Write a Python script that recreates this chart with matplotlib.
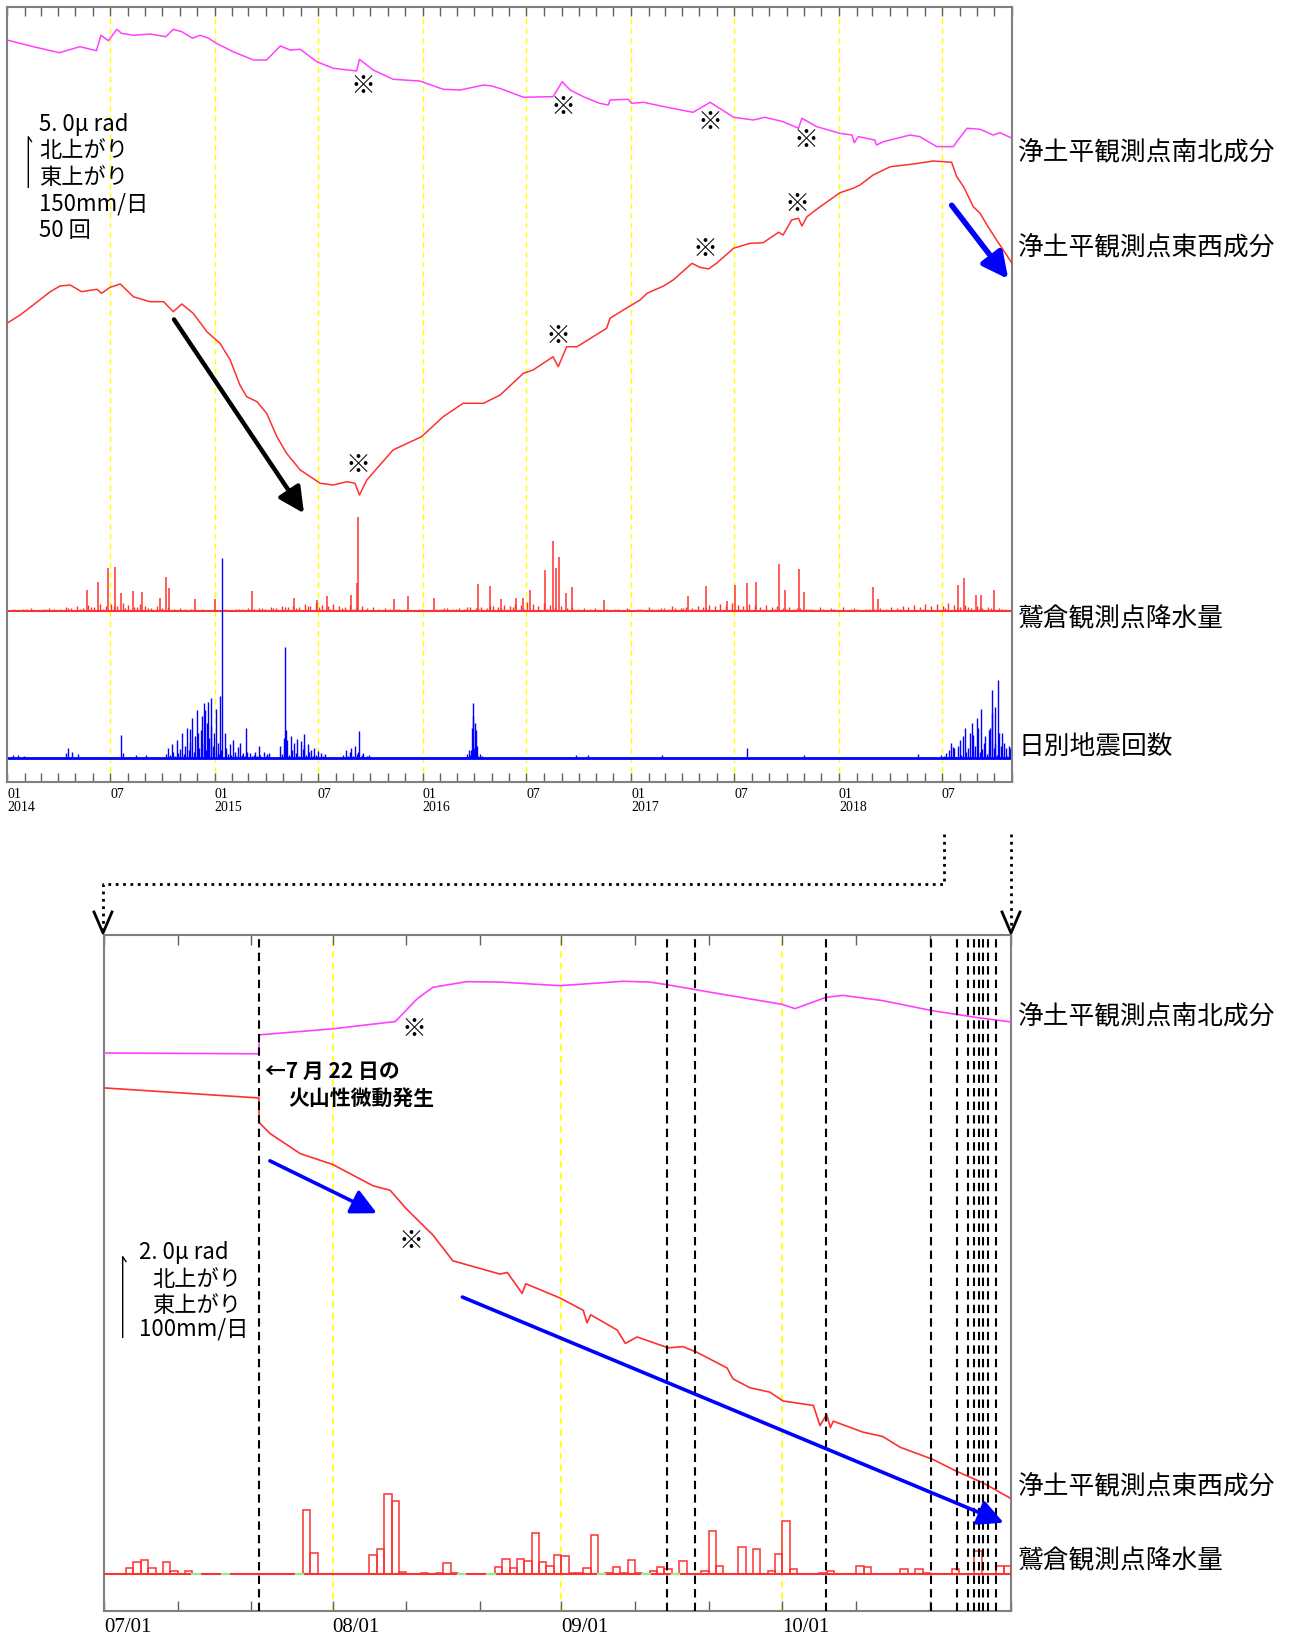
import numpy as np
import pandas as pd
import matplotlib
matplotlib.use("Agg")
import matplotlib.pyplot as plt
import matplotlib.dates as mdates
from matplotlib.lines import Line2D
from matplotlib.ticker import FuncFormatter

plt.rcParams['font.family'] = ['Noto Sans CJK JP', 'DejaVu Sans']

W, H = 1298, 1645
MAG = '#ff40ff'
RED = '#ff3030'
BLUE = '#0000ff'
YEL = '#ffff00'

# ---------------- top panel (days since 2014-01-01) ----------------
# 浄土平 南北成分 (μrad, relative)
ns_top_days = [0, 46, 92, 128, 157, 165, 178, 193, 201, 222,
               251, 279, 292, 307, 326, 339, 354, 368, 397, 433,
               456, 480, 497, 515, 544, 573, 614, 619, 643, 678,
               725, 766, 796, 837, 851, 866, 907, 959, 975, 989,
               1012, 1041, 1056, 1059, 1091, 1097, 1118, 1159, 1205, 1235,
               1276, 1311, 1331, 1363, 1390, 1396, 1422, 1463, 1484, 1488,
               1495, 1524, 1527, 1539, 1586, 1603, 1633, 1662, 1668, 1686,
               1709, 1732, 1744, 1765]
ns_top_urad = [0.00, -0.66, -1.26, -0.66, -1.06, 0.47, -0.07, 1.06, 0.66, 0.47,
               0.59, 0.33, 1.06, 0.82, 0.17, 0.47, 0.17, -0.33, -1.16, -1.98,
               -1.98, -0.59, -0.99, -0.92, -2.15, -2.80, -3.07, -1.91, -2.97, -3.89,
               -4.06, -4.88, -4.95, -4.46, -4.55, -4.80, -5.67, -5.61, -4.13, -4.95,
               -5.61, -6.27, -6.44, -5.94, -5.87, -6.27, -6.17, -6.66, -7.16, -6.17,
               -7.65, -7.92, -7.65, -8.09, -8.74, -7.75, -8.58, -9.24, -9.41, -10.17,
               -9.57, -9.90, -10.40, -10.07, -9.41, -9.57, -10.56, -10.56, -10.07, -8.74,
               -8.84, -9.41, -9.18, -9.73]

# 浄土平 東西成分 (μrad, relative)
ew_top_days = [0, 23, 46, 76, 93, 111, 131, 158, 166, 181,
               199, 222, 251, 275, 292, 307, 327, 351, 374, 392,
               409, 421, 439, 456, 474, 491, 515, 550, 573, 597,
               611, 619, 632, 678, 728, 766, 801, 837, 866, 907,
               924, 959, 968, 983, 1001, 1053, 1059, 1094, 1112, 1124,
               1153, 1170, 1203, 1217, 1232, 1246, 1276, 1305, 1328, 1355,
               1363, 1378, 1390, 1396, 1405, 1428, 1463, 1486, 1498, 1521,
               1551, 1592, 1627, 1659, 1668, 1680, 1697, 1709, 1723, 1738,
               1765]
ew_top_urad = [0.00, 0.82, 1.81, 3.13, 3.69, 3.79, 3.13, 3.37, 2.97, 3.56,
               3.89, 2.63, 2.14, 2.14, 1.15, 1.91, 0.99, -0.83, -1.98, -3.63,
               -6.11, -7.27, -7.76, -8.91, -11.23, -12.87, -14.52, -15.84, -16.01, -15.68,
               -15.84, -17.00, -15.51, -12.54, -11.23, -9.25, -7.92, -7.92, -7.10, -4.95,
               -4.62, -3.31, -4.30, -2.32, -2.32, -0.50, 0.50, 1.71, 2.31, 2.97,
               3.69, 4.29, 5.94, 5.54, 5.38, 5.94, 7.43, 7.92, 7.98, 9.01,
               8.74, 10.23, 10.40, 9.63, 10.55, 11.54, 12.93, 13.37, 13.69, 14.68,
               15.50, 15.77, 16.07, 15.94, 14.51, 13.52, 11.54, 10.89, 9.56, 8.24,
               5.94]

# 鷲倉 降水量 (mm/day): larger days
rain_top_days = [140, 159, 178, 189, 200, 222, 237, 268, 279, 285,
                 330, 365, 431, 504, 544, 562, 605, 614, 616, 679,
                 704, 750, 827, 848, 867, 894, 907, 919, 944, 959,
                 964, 970, 982, 993, 1048, 1196, 1227, 1265, 1279, 1299,
                 1315, 1355, 1367, 1391, 1399, 1521, 1530, 1670, 1680, 1701,
                 1710, 1733]
rain_top_mm = [62, 87, 127, 131, 53, 60, 56, 38, 100, 67,
               36, 35, 60, 40, 33, 45, 47, 82, 278, 36,
               45, 40, 80, 75, 36, 40, 40, 62, 122, 207,
               128, 161, 52, 70, 33, 44, 75, 31, 77, 82,
               87, 139, 62, 124, 56, 70, 37, 77, 99, 47,
               47, 62]
# smaller rainy days, one every 10 days from day 3, and more offset by 5 days
rain_bg_days = np.arange(3, 1765, 10)
rain_bg_mm = [4, 6, 3, 5, 8, 4, 6, 9, 5, 7, 12, 8, 15, 10, 18, 12, 22, 14, 20, 16, 25, 18, 12, 20, 15, 10, 14, 8, 12, 6, 9, 5, 7, 4, 6, 3, 5,
              3, 5, 4, 7, 5, 8, 6, 10, 7, 12, 9, 14, 11, 16, 13, 20, 15, 24, 18, 14, 22, 16, 12, 18, 10, 14, 8, 11, 6, 9, 5, 7, 4, 6, 3, 5,
              4, 3, 6, 5, 8, 6, 9, 7, 11, 8, 13, 10, 16, 12, 19, 14, 22, 18, 26, 20, 15, 24, 17, 12, 16, 10, 13, 7, 10, 5, 8, 4, 6, 3, 5, 4, 6,
              3, 5, 4, 6, 5, 8, 7, 10, 8, 13, 10, 15, 12, 18, 14, 21, 16, 25, 19, 14, 22, 17, 12, 19, 11, 15, 9, 12, 6, 9, 5, 7, 4, 6, 3, 5,
              4, 3, 5, 6, 4, 7, 6, 9, 7, 12, 9, 15, 11, 18, 13, 22, 16, 20, 14, 24, 17, 12, 18, 10, 14, 8, 11, 6, 9, 5, 7]
rain_bg2_days = np.arange(8, 1765, 20)
rain_bg2_mm = [3, 5, 2, 6, 4, 9, 7, 11, 6, 14, 9, 12, 8, 5, 4, 3, 6, 2,
               4, 3, 7, 5, 10, 8, 13, 9, 16, 11, 7, 9, 5, 3, 4, 2, 5, 3, 6, 4,
               8, 6, 12, 10, 15, 8, 11, 6, 4, 5, 3, 2, 4, 3, 6, 5, 9, 7,
               12, 10, 14, 9, 6, 8, 4, 3, 5, 2, 4, 6, 5, 8, 7, 11, 9, 13,
               10, 7, 6, 4, 5, 3, 6, 4, 9, 8, 12, 10, 8, 6]

# 日別地震回数
eq_days = [10, 20, 30, 104, 108, 115, 125, 200, 204, 226,
           244, 322, 336, 342, 348, 353, 359, 367, 374, 378,
           382, 420, 488, 490, 522, 619, 815, 819, 824, 1000,
           1020, 1150, 1299, 1400, 1600, 1661, 1696, 1710, 1724, 1730,
           1736, 1741, 1747, 1762]
eq_counts = [3, 3, 2, 5, 10, 6, 4, 23, 5, 3,
             3, 29, 25, 42, 48, 56, 32, 49, 62, 198,
             25, 30, 110, 28, 24, 27, 8, 55, 28, 3,
             3, 3, 10, 3, 4, 11, 23, 49, 28, 68,
             51, 78, 25, 10]
eq_a_days = np.arange(280, 377, 3)
eq_a = [4, 10, 3, 14, 6, 2, 18, 5, 9, 25, 4, 12, 30, 8, 16, 40, 6, 22, 48, 10,
        28, 15, 55, 8, 35, 20, 60, 12, 25, 6, 15, 4, 8]
eq_b_days = np.arange(385, 461, 3)
eq_b = [10, 4, 14, 3, 18, 6, 2, 11, 15, 3, 5, 2, 6, 1, 5, 2, 3, 6, 2, 12, 3, 1, 6, 2, 4, 5]
eq_c_days = np.arange(480, 561, 3)
eq_c = [12, 4, 20, 6, 18, 3, 22, 8, 15, 5, 19, 2, 17, 9, 13, 3, 14, 6, 8, 2, 10, 3, 7, 1, 5, 2, 4]
eq_d_days = np.arange(590, 641, 3)
eq_d = [3, 1, 8, 2, 6, 10, 2, 12, 4, 6, 1, 3, 5, 1, 2, 3, 1]
eq_e_days = np.arange(808, 835, 2)
eq_e = [4, 1, 8, 3, 30, 42, 10, 35, 6, 12, 2, 4, 1, 2]
eq_f_days = np.arange(1640, 1765, 3)
eq_f = [3, 1, 2, 5, 1, 8, 15, 2, 10, 1, 12, 18, 3, 22, 30, 6, 10, 25, 35, 8, 12,
        40, 30, 6, 9, 15, 22, 4, 8, 30, 45, 10, 15, 3, 25, 12, 4, 15, 10, 2, 12, 8]

# ---------------- bottom panel (days since 2018-07-01) ----------------
ns_bot_days = [0, 21, 21.05, 31, 39.5, 42.5, 44.6, 49.2, 53.7, 61.8,
               70.4, 74, 76.5, 83.1, 91.9, 93.7, 97.9, 100.2, 105.6, 112.3,
               118.4, 123]
ns_bot_urad = [0.00, -0.02, 0.45, 0.60, 0.78, 1.35, 1.63, 1.77, 1.76, 1.67,
               1.78, 1.76, 1.69, 1.48, 1.21, 1.10, 1.38, 1.43, 1.30, 1.05,
               0.88, 0.77]
ew_bot_days = [0, 21, 21.05, 22.5, 26.6, 31, 36.5, 38.8, 41, 44.6,
               46, 47.3, 53.7, 54.7, 56.7, 57.2, 61.8, 65, 65.5, 66,
               69.6, 70.7, 72.3, 76.5, 78.5, 80.4, 84.5, 85.3, 87.6, 90.3,
               92.1, 96.2, 97.1, 98, 98.5, 98.9, 102.9, 105.6, 108, 112.3,
               115.7, 119.2, 123]
ew_bot_urad = [0.00, -0.25, -0.86, -1.13, -1.63, -1.90, -2.43, -2.54, -3.00, -3.65,
               -3.98, -4.29, -4.62, -4.58, -5.10, -4.86, -5.21, -5.52, -5.83, -5.63,
               -6.01, -6.34, -6.18, -6.45, -6.42, -6.56, -6.95, -7.22, -7.44, -7.55,
               -7.77, -7.88, -8.38, -8.10, -8.43, -8.27, -8.54, -8.65, -8.92, -9.21,
               -9.52, -9.80, -10.19]
rain_bot_days = [3, 4, 5, 6, 8, 9, 11, 27, 28, 36, 37, 38, 39, 40, 43, 45, 46, 47, 53, 54,
                 55, 56, 57, 58, 59, 60, 61, 62, 63, 64, 65, 66, 68, 69, 70, 71, 72, 74, 75, 76,
                 78, 81, 82, 83, 86, 88, 90, 91, 92, 93, 97, 98, 102, 103, 108, 110, 111, 115, 118, 121,
                 122]
rain_bot_mm = [7.1, 14.3, 17.6, 7.1, 14.3, 3.8, 3.8, 79.0, 25.8, 23.0, 30.7, 99.3, 91.1, 2.2, 1.6, 1.1, 13.2, 1.6, 8.8, 19.2,
               7.1, 19.2, 15.9, 50.5, 14.3, 10.4, 24.1, 22.5, 1.6, 1.6, 7.1, 48.8, 1.6, 8.8, 1.6, 17.6, 1.6, 3.8, 8.8, 6.0,
               15.9, 3.8, 53.8, 10.4, 33.5, 31.3, 3.8, 24.7, 65.9, 6.0, 1.6, 3.8, 10.4, 8.8, 6.0, 6.0, 1.6, 6.0, 29.1, 10.4,
               10.4]
rain_missing_days = [12, 16, 26, 48, 52, 67, 73, 77]
# 火山性微動 (days since 2018-07-01)
tremor_days = [21, 76.4, 80.2, 97.9, 112.2, 115.7, 117.2, 118.0, 118.6, 119.2, 119.9, 120.9]

t0 = mdates.date2num(pd.Timestamp('2014-01-01'))
t1 = mdates.date2num(pd.Timestamp('2018-11-01'))
b0 = mdates.date2num(pd.Timestamp('2018-07-01'))
b1 = mdates.date2num(pd.Timestamp('2018-11-01'))

fig = plt.figure(figsize=(W / 100, H / 100), dpi=100)


def rect(l, t, r, b):
    return [l / W, 1 - b / H, (r - l) / W, (b - t) / H]


def fpt(x, y):
    return x / W, 1 - y / H


def fig_line(xs, ys, **kw):
    fx = [x / W for x in xs]
    fy = [1 - y / H for y in ys]
    fig.add_artist(Line2D(fx, fy, transform=fig.transFigure, **kw))


def style_frame(ax):
    for s in ax.spines.values():
        s.set_color('#808080')
        s.set_linewidth(1.5)
    ax.set_yticks([])


# ====== top panel ======
T_BOT, T_SC = 782, 10.1   # px of axes bottom, px per μrad


def ty(p):
    return (T_BOT - p) / T_SC


ax1 = fig.add_axes(rect(7, 7, 1012, 782))
ax1.set_xlim(t0, t1)
ax1.set_ylim(0, ty(7))
style_frame(ax1)
for m in pd.date_range('2014-07-01', '2018-07-01', freq='6MS'):
    ax1.axvline(mdates.date2num(m), color=YEL, lw=1, ls=(0, (4, 3)), zorder=1)

ax1.plot(t0 + np.array(ns_top_days), ty(40) + np.array(ns_top_urad), color=MAG, lw=1.1, zorder=3)
ax1.plot(t0 + np.array(ew_top_days), ty(323.3) + np.array(ew_top_urad), color=RED, lw=1.1, zorder=3)

rain_base = ty(611)
ax1.vlines(t0 + rain_bg_days, rain_base, rain_base + np.array(rain_bg_mm) / 30, color=RED, lw=1)
ax1.vlines(t0 + rain_bg2_days, rain_base, rain_base + np.array(rain_bg2_mm) / 30, color=RED, lw=1)
ax1.vlines(t0 + np.array(rain_top_days), rain_base, rain_base + np.array(rain_top_mm) / 30, color=RED, lw=1.1)
ax1.axhline(rain_base, color=RED, lw=1.5)

eq_base = ty(758.3)
for dd, cc in [(eq_a_days, eq_a), (eq_b_days, eq_b), (eq_c_days, eq_c),
               (eq_d_days, eq_d), (eq_e_days, eq_e), (eq_f_days, eq_f),
               (np.array(eq_days), eq_counts)]:
    ax1.vlines(t0 + dd, eq_base, eq_base + np.array(cc) / 10, color=BLUE, lw=1.0)
ax1.axhline(eq_base, color=BLUE, lw=2)

kome_top = [(626, 68.9), (617, 31.4), (977, 66.8), (1235, 65.3), (1403, 63.6),
            (968, 44.2), (1226, 52.8), (1388, 57.2)]
for d, y in kome_top:
    ax1.text(t0 + d, y, '※', fontsize=18, ha='center', va='center', zorder=5)

ax1.annotate('', xy=(t0 + 521.6, 26.6), xytext=(t0 + 293.3, 45.8),
             arrowprops=dict(arrowstyle='-|>,head_length=0.7,head_width=0.35', color='black',
                             lw=3.2, mutation_scale=22, shrinkA=0, shrinkB=0))
ax1.annotate('', xy=(t0 + 1758.5, 49.8), xytext=(t0 + 1659.1, 57.1),
             arrowprops=dict(arrowstyle='-|>,head_length=0.7,head_width=0.35', color=BLUE,
                             lw=4, mutation_scale=22, shrinkA=0, shrinkB=0))

ax1.xaxis.set_major_locator(mdates.MonthLocator())


def top_label(x, pos):
    d = mdates.num2date(x)
    if d.month == 1:
        return f'01\n{d.year}'
    if d.month == 7:
        return '07'
    return ''


ax1.xaxis.set_major_formatter(FuncFormatter(top_label))
ax1.tick_params(axis='x', direction='in', length=6.5, width=1, color='#606060',
                top=True, bottom=True, labelsize=10, pad=4, labelfontfamily='Liberation Serif')
for lab in ax1.get_xticklabels():
    lab.set_ha('left')
    lab.set_linespacing(1.0)

# ====== bottom panel ======
B_BOT, B_SC = 1611, 40.3


def by(p):
    return (B_BOT - p) / B_SC


ax2 = fig.add_axes(rect(104, 935, 1011, 1611))
ax2.set_xlim(b0, b1)
ax2.set_ylim(0, by(935))
style_frame(ax2)
for m in ['2018-08-01', '2018-09-01', '2018-10-01']:
    ax2.axvline(mdates.date2num(pd.Timestamp(m)), color=YEL, lw=1.2, ls=(0, (4, 3)), zorder=1)

ax2.plot(b0 + np.array(ns_bot_days), by(1053) + np.array(ns_bot_urad), color=MAG, lw=1.2, zorder=3)
ax2.plot(b0 + np.array(ew_bot_days), by(1087.9) + np.array(ew_bot_urad), color=RED, lw=1.2, zorder=3)

rb = by(1574)
ax2.bar(b0 + np.array(rain_bot_days), np.array(rain_bot_mm) * 0.02, width=1.0, bottom=rb,
        align='edge', fill=False, edgecolor=RED, lw=1.1, zorder=3)
ax2.axhline(rb, color=RED, lw=1.5, zorder=3)
for d in rain_missing_days:
    ax2.plot([b0 + d, b0 + d + 1], [rb, rb], color='#90ee90', lw=1.5, zorder=4)

for d in tremor_days:
    ax2.axvline(b0 + d, color='black', lw=1.5, ls=(0, (4, 2.5)), zorder=4)

ax2.text(b0 + 42.0, 14.45, '※', fontsize=18, ha='center', va='center', zorder=5)
ax2.text(b0 + 41.6, 9.18, '※', fontsize=18, ha='center', va='center', zorder=5)

ax2.annotate('', xy=(b0 + 37.0, 9.87), xytext=(b0 + 22.5, 11.17),
             arrowprops=dict(arrowstyle='-|>,head_length=0.7,head_width=0.35', color=BLUE,
                             lw=2.6, mutation_scale=22, shrinkA=0, shrinkB=0), zorder=6)
ax2.annotate('', xy=(b0 + 122.0, 2.19), xytext=(b0 + 48.6, 7.79),
             arrowprops=dict(arrowstyle='-|>,head_length=0.7,head_width=0.35', color=BLUE,
                             lw=2.6, mutation_scale=22, shrinkA=0, shrinkB=0), zorder=6)

ax2.xaxis.set_major_locator(mdates.DayLocator(bymonthday=[1, 11, 21]))


def bot_label(x, pos):
    d = mdates.num2date(x)
    if d.day == 1 and d.month <= 10:
        return d.strftime('%m/%d')
    return ''


ax2.xaxis.set_major_formatter(FuncFormatter(bot_label))
ax2.tick_params(axis='x', direction='in', length=7, width=1, color='#606060',
                top=True, bottom=True, labelsize=15, pad=5, labelfontfamily='Liberation Serif')
for lab in ax2.get_xticklabels():
    lab.set_ha('left')

# ====== texts ======
labels = [(152, '浄土平観測点南北成分'), (247, '浄土平観測点東西成分'),
          (619, '鷲倉観測点降水量'), (747, '日別地震回数'),
          (1016, '浄土平観測点南北成分'), (1486, '浄土平観測点東西成分'),
          (1561, '鷲倉観測点降水量')]
for y, s in labels:
    fig.text(*fpt(1018, y), s, fontsize=18.5, ha='left', va='center')

for y, s in [(124, '5. 0μ rad'), (150.7, '北上がり'), (177.3, '東上がり'),
             (204, '150mm/日'), (230.7, '50 回')]:
    fig.text(*fpt(39, y), s, fontsize=16, ha='left', va='center')
fig_line([28.3, 28.3, 31.5], [187.3, 136.7, 141.5], color='black', lw=1)

for x, y, s in [(139, 1252, '2. 0μ rad'), (152, 1279, '北上がり'),
                (152, 1306, '東上がり'), (139, 1329, '100mm/日')]:
    fig.text(*fpt(x, y), s, fontsize=16, ha='left', va='center')
fig_line([122.7, 122.7, 126], [1337.3, 1256.7, 1261.5], color='black', lw=1)

fig.text(*fpt(265, 1071), '←7 月 22 日の', fontsize=15, fontweight='bold', ha='left', va='center')
fig.text(*fpt(288, 1098), '火山性微動発生', fontsize=15, fontweight='bold', ha='left', va='center')

# dotted connectors between panels
fig_line([944, 944, 103, 103], [834, 884, 884, 930], color='black', lw=2, ls=':')
fig_line([1011, 1011], [834, 930], color='black', lw=2, ls=':')
for x in (103, 1011):
    fig_line([x - 9, x, x + 9], [912, 933, 912], color='black', lw=2)

fig.savefig('out.png', dpi=100)
